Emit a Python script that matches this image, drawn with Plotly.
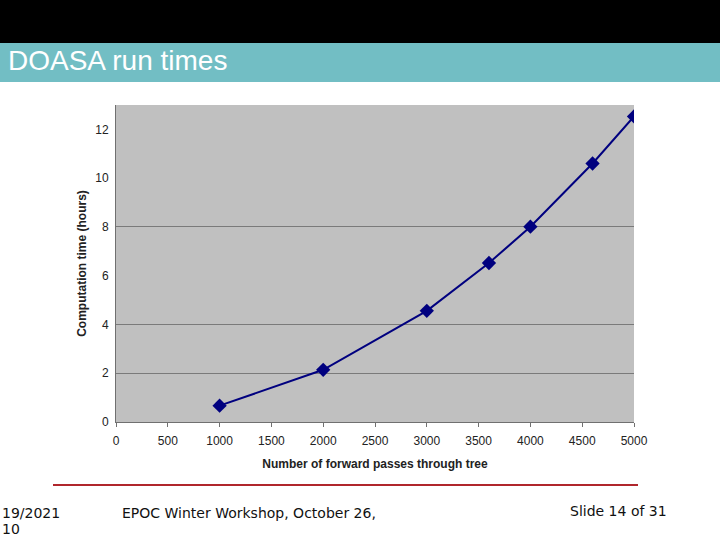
import plotly.graph_objects as go

# Data
passes = [1000, 2000, 3000, 3600, 4000, 4600, 5000]
hours = [0.67, 2.14, 4.56, 6.52, 8.01, 10.6, 12.53]
x_ticks = [0, 500, 1000, 1500, 2000, 2500, 3000, 3500, 4000, 4500, 5000]
y_ticks = [0, 2, 4, 6, 8, 10, 12]
grid_vals = [2, 4, 8]

W, H = 720, 540
L, R, T, B = 116, 634, 105, 422
pw, ph = R - L, B - T


def px(xp):
    return (xp - L) / pw


def py(yp):
    return (B - yp) / ph


fig = go.Figure()
fig.add_trace(go.Scatter(
    x=passes, y=hours, mode="lines+markers",
    line=dict(color="#00007F", width=2),
    marker=dict(symbol="diamond", size=11, color="#00007F"),
    showlegend=False, hoverinfo="x+y",
))
# invisible trace on overlaid axis to carry the partial gridlines
fig.add_trace(go.Scatter(x=[passes[0]], y=[hours[0]], yaxis="y2",
                         mode="markers", marker=dict(opacity=0),
                         showlegend=False, hoverinfo="skip"))

font_axis = "Liberation Sans, Arial, sans-serif"

fig.update_layout(
    width=W, height=H,
    margin=dict(l=L, r=W - R, t=T, b=H - B),
    paper_bgcolor="white",
    plot_bgcolor="#C0C0C0",
    xaxis=dict(
        range=[0, 5000], tickvals=x_ticks, ticktext=[str(v) for v in x_ticks],
        showgrid=False, zeroline=False,
        showline=True, linecolor="#707070", linewidth=1,
        ticks="outside", ticklen=4, tickcolor="#707070",
        ticklabelstandoff=4,
        tickfont=dict(family=font_axis, size=12, color="#222"),
        title=dict(text="<b>Number of forward passes through tree</b>",
                   font=dict(family=font_axis, size=12, color="#222"),
                   standoff=12),
    ),
    yaxis=dict(
        range=[0, 13], tickvals=y_ticks,
        showgrid=False, zeroline=False,
        showline=True, linecolor="#707070", linewidth=1,
        ticks="", ticklabelstandoff=4,
        tickfont=dict(family=font_axis, size=12, color="#222"),
        title=dict(text="<b>Computation time (hours)</b>",
                   font=dict(family=font_axis, size=12, color="#222"),
                   standoff=6),
    ),
    yaxis2=dict(
        range=[0, 13], overlaying="y", tickvals=grid_vals,
        showgrid=True, gridcolor="#7A7A7A", gridwidth=1,
        showticklabels=False, zeroline=False, showline=False, ticks="",
    ),
)

# header bands
fig.add_shape(type="rect", xref="paper", yref="paper",
              x0=px(0), x1=px(W), y0=py(0), y1=py(43),
              fillcolor="black", line_width=0)
fig.add_shape(type="rect", xref="paper", yref="paper",
              x0=px(0), x1=px(W), y0=py(43), y1=py(82),
              fillcolor="#72BEC4", line_width=0)
fig.add_annotation(xref="paper", yref="paper", x=px(6), y=py(61),
                   xanchor="left", yanchor="middle", showarrow=False,
                   text="DOASA run times",
                   font=dict(family="Liberation Sans, Arial", size=28, color="white"))

# footer line
fig.add_shape(type="line", xref="paper", yref="paper",
              x0=px(53), x1=px(638), y0=py(485), y1=py(485),
              line=dict(color="#B0262C", width=2))

foot_font = dict(family="DejaVu Sans, Verdana", size=14, color="#111")
fig.add_annotation(xref="paper", yref="paper", x=px(0), y=py(513),
                   xanchor="left", yanchor="middle", showarrow=False,
                   text="19/2021", font=foot_font)
fig.add_annotation(xref="paper", yref="paper", x=px(0), y=py(529),
                   xanchor="left", yanchor="middle", showarrow=False,
                   text="10", font=foot_font)
fig.add_annotation(xref="paper", yref="paper", x=px(120), y=py(513),
                   xanchor="left", yanchor="middle", showarrow=False,
                   text="EPOC Winter Workshop, October 26,", font=foot_font)
fig.add_annotation(xref="paper", yref="paper", x=px(568), y=py(511),
                   xanchor="left", yanchor="middle", showarrow=False,
                   text="Slide 14 of 31", font=foot_font)

fig.write_html("out.html", config={"displayModeBar": False},
               post_script="document.body.style.margin='0';document.body.style.overflow='hidden';")
